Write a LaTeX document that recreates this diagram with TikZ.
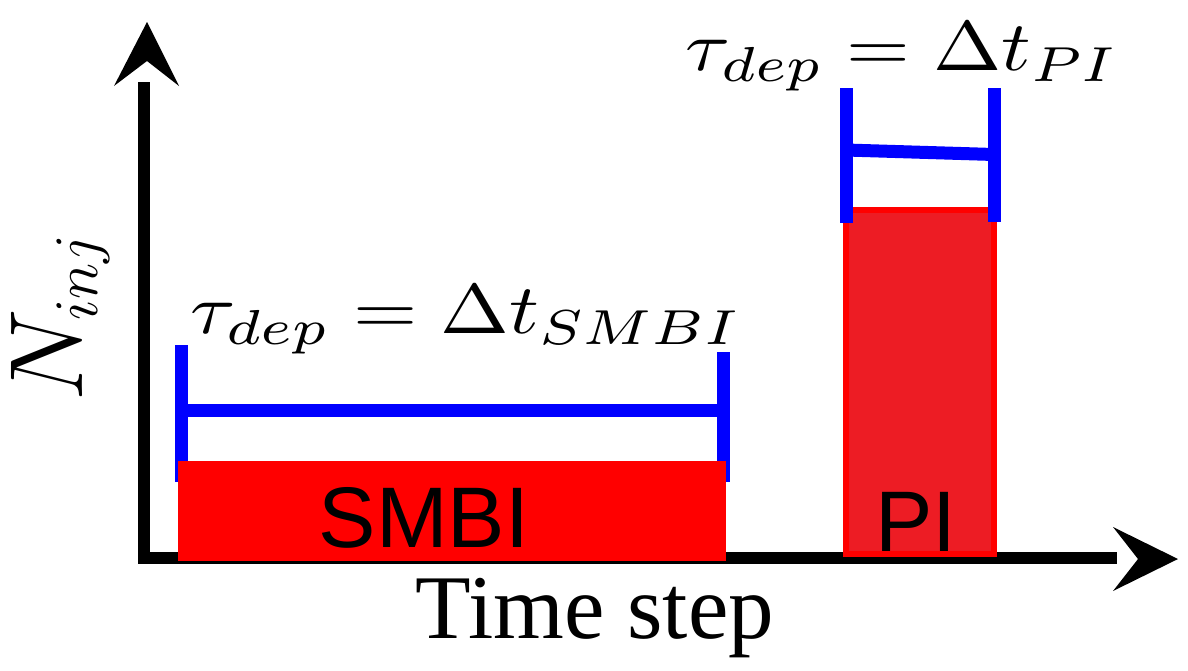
\RequirePackage{fix-cm}
\documentclass[tikz,border=0pt]{standalone}
\usepackage{fontspec}
\usepackage{graphicx}
\newfontfamily\serifTimes{Liberation Serif}
\newfontfamily\sansArial{Liberation Sans}
\definecolor{pired}{HTML}{ED1C24}
\definecolor{pureblue}{HTML}{0000FF}
\definecolor{purered}{HTML}{FF0000}
\tikzset{
  axisline/.style={line width=12.5pt, line join=miter, black},
  tipfill/.style={fill=black},
  bluebar/.style={line width=13pt, pureblue},
  boxlabel/.style={inner sep=0pt, anchor=base, font=\fontsize{86}{90}\selectfont\sansArial, text=black},
  mathlabel/.style={inner sep=0pt, anchor=south west}
}
\begin{document}
\begin{tikzpicture}[x=1pt,y=-1pt]
\useasboundingbox (0,0) rectangle (1188,670);
% axes
\coordinate (ytop) at (144,82);
\coordinate (origin) at (144,558);
\coordinate (xend) at (1117,558);
\draw[axisline] (ytop) -- (origin) -- (xend);
\fill[tipfill] (147,22) -- (179,86) -- (147,61) -- (114,86) -- cycle;
\fill[tipfill] (1178,559) -- (1113,591) -- (1138,559) -- (1113,527) -- cycle;
% SMBI bracket
\coordinate (sl1) at (181.5,345);
\coordinate (sl2) at (181.5,482);
\coordinate (sr1) at (723,352);
\coordinate (sr2) at (723,482);
\coordinate (sm1) at (181.5,410);
\coordinate (sm2) at (723,410);
\draw[bluebar] (sl1) -- (sl2);
\draw[bluebar] (sr1) -- (sr2);
\draw[bluebar] (sm1) -- (sm2);
% SMBI box
\fill[purered] (178,461) rectangle (726,561);
\node[boxlabel] (smbi) at (424,547) {SMBI};
% PI box
\filldraw[fill=pired, draw=purered, line width=6pt] (846,210) rectangle (994,554);
\node[boxlabel] (pi) at (916,551) {PI};
% PI bracket
\coordinate (pl1) at (846,88);
\coordinate (pl2) at (846,223);
\coordinate (pr1) at (994,88);
\coordinate (pr2) at (994,222);
\coordinate (pm1) at (846,150);
\coordinate (pm2) at (994,154.5);
\draw[bluebar] (pl1) -- (pl2);
\draw[bluebar] (pr1) -- (pr2);
\draw[bluebar] (pm1) -- (pm2);
% labels
\node[mathlabel] (tsmbi) at (190,354) {\resizebox*{552pt}{68pt}{$\tau_{dep}=\Delta t_{SMBI}$}};
\node[mathlabel] (tpi) at (685,91) {\resizebox*{434pt}{68pt}{$\tau_{dep}=\Delta t_{PI}$}};
\node[inner sep=0pt, rotate=90, anchor=base west, font=\fontsize{104}{108}\selectfont] (ninj) at (82,402) {$N_{\scalebox{0.85}{$\scriptstyle inj$}}$};
\node[inner sep=0pt, anchor=base, font=\fontsize{91}{95}\selectfont\serifTimes] (time) at (595,638) {Time step};
\end{tikzpicture}
\end{document}
